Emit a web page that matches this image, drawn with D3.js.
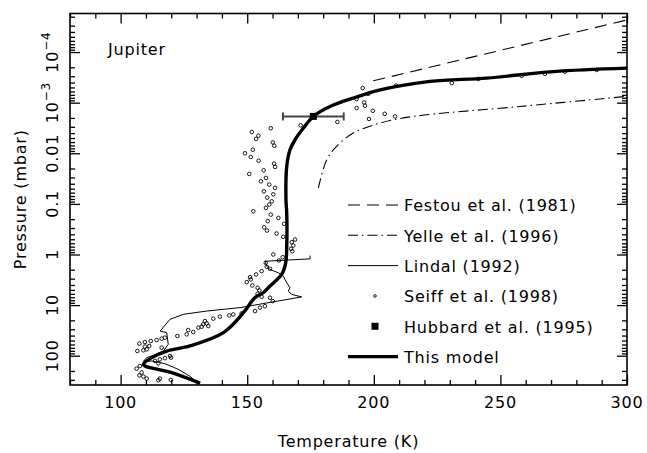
<!DOCTYPE html>
<html>
<head>
<meta charset="utf-8">
<script src="https://cdn.jsdelivr.net/npm/d3@7"></script>
<style>
  body { margin: 0; background: #fff; }
  svg text { font-family: "DejaVu Sans", sans-serif; fill: #000; letter-spacing: 0.8px; }
</style>
</head>
<body>
<svg id="chart" width="647" height="453"></svg>
<script>
// Jupiter upper-atmosphere temperature profiles: [temperature K, pressure mbar]

// Thick curve: this model (from deep atmosphere upward)
const modelProfile = [
  [131.4, 350], [119.5, 212], [109.6, 160], [109.0, 148], [112.3, 109],
  [118.2, 81], [127.4, 64], [140.6, 35], [148.5, 14.1], [153.1, 7.1],
  [156.3, 5.7], [159.0, 4.2], [163.6, 2.48], [165.2, 1.46], [165.6, 0.686],
  [165.6, 0.151], [165.3, 0.0822], [165.6, 0.0182], [166.9, 8.5e-3],
  [168.9, 5.4e-3], [172.2, 3.17e-3], [176.1, 1.87e-3], [182.7, 1.19e-3],
  [191.9, 8.1e-4], [202.5, 5.6e-4], [222.2, 3.8e-4], [244.6, 3.27e-4],
  [270.9, 2.43e-4], [300, 2.08e-4]
];

// Festou et al. (1981)
const festouProfile = [[199.8, 3.7e-4], [300, 2.32e-5]];

// Yelle et al. (1996)
const yelleProfile = [
  [178.1, 0.0484], [181.4, 0.0134], [185.3, 7.3e-3], [191.9, 3.98e-3],
  [202.5, 2.53e-3], [215.6, 1.87e-3], [257.8, 1.19e-3], [300, 7.5e-4]
];

// Lindal (1992) radio occultation
const lindalProfile = [
  [174.8, 1.05], [174.8, 1.22], [157.0, 1.36], [157.7, 1.70], [159.0, 1.98],
  [162.3, 2.30], [164.3, 2.68], [164.9, 3.11], [165.6, 3.61], [166.9, 4.54],
  [166.2, 5.30], [167.6, 6.15], [171.5, 6.89], [159.7, 8.73], [147.2, 11.2],
  [134.0, 13.1], [124.8, 15.2], [119.5, 19.1], [115.6, 32.6], [118.2, 35],
  [118.8, 59.6], [116.9, 80.7], [114.2, 93.8], [110.3, 109], [109.0, 129],
  [112.4, 127], [117.5, 144], [122.7, 185], [127.4, 255], [130.6, 350]
];

// Seiff et al. (1998) Galileo probe points
const seiffPoints = [
  [195.6, 5.15e-4], [193.2, 8.5e-4], [197.8, 6.7e-4], [193.2, 1.28e-3], [196.2, 9.9e-4],
  [196.5, 1.15e-3], [199.6, 1.45e-3], [198.1, 2.1e-3], [204.3, 1.66e-3], [208.4, 1.87e-3],
  [208.8, 4.6e-4], [185.6, 2.4e-3], [171.1, 2.8e-3], [159.3, 3.2e-3], [151.8, 3.8e-3],
  [154.4, 4.5e-3], [153.5, 5.2e-3], [160.1, 6.1e-3], [160.7, 7.1e-3], [152.2, 8.5e-3],
  [149.1, 0.010], [151.4, 0.0118], [154.5, 0.014], [160.6, 0.016], [161.0, 0.0186],
  [156.5, 0.0217], [150.8, 0.0256], [157.4, 0.0307], [155.4, 0.0358], [158.7, 0.0416],
  [161.0, 0.0483], [156.6, 0.0564], [160.3, 0.0647], [157.9, 0.0751],
  [159.7, 0.089], [158.7, 0.103], [157.4, 0.12], [152.4, 0.14], [159.3, 0.163],
  [162.3, 0.189], [158.1, 0.22], [164.6, 0.248], [156.7, 0.29], [157.8, 0.336],
  [161.6, 0.385], [164.2, 0.448], [168.9, 0.506], [167.6, 0.571], [168.2, 0.664],
  [167.3, 0.772], [167.8, 0.861], [160.3, 1.0], [164.0, 1.13], [162.5, 1.31],
  [157.3, 1.46], [157.7, 1.75], [159.0, 1.91], [155.7, 2.13], [153.5, 2.48],
  [151.1, 2.8], [151.4, 3.11], [149.8, 3.52], [152.0, 4.09], [154.1, 4.54],
  [154.8, 5.13], [154.1, 5.96], [155.7, 6.83], [159.0, 7.14],
  [160.1, 8.34], [157.0, 10.5], [155.0, 11.2], [153.1, 13.1], [147.8, 14.6],
  [144.5, 15.3], [142.9, 16.0], [139.2, 16.9], [136.6, 18.5], [133.3, 20.7],
  [132.6, 24], [134.0, 23], [132.0, 26.7], [130.7, 27.9], [134.6, 25.9],
  [128.7, 34], [126.7, 31.1], [126.1, 37.8], [122.4, 40.8], [116.2, 46],
  [114.2, 49], [111.9, 51.3], [109.6, 53.7], [107.4, 57.7], [109.6, 66.1],
  [111.3, 64.4], [106.6, 80.7], [109.0, 78.2], [110.3, 74.8], [116.2, 69.2],
  [117.5, 44], [115.5, 118], [117.5, 112], [119.5, 101], [119.9, 109],
  [113.6, 127], [114.9, 141], [106.3, 180], [107.6, 160], [108.3, 215],
  [107.4, 244], [109.0, 258], [110.3, 283], [114.9, 305], [115.5, 283], [119.8, 301],
  [230.8, 4.1e-4], [241.3, 3.4e-4], [258.4, 2.95e-4], [267.6, 2.7e-4],
  [275.5, 2.43e-4], [288.0, 2.25e-4]
];

// Hubbard et al. (1995) occultation point: [T, P, T error]
const hubbardPoint = [176.1, 1.87e-3, 12];

// Axis ticks
const xMajorTicks = [100, 150, 200, 250, 300];
const yMajorTicks = [100, 10, 1, 0.1, 0.01, 1e-3, 1e-4];
const yTickLabels = ["100", "10", "1", "0.1", "0.01", ["10", "\u22123"], ["10", "\u22124"]];

const legendLabels = [
  "Festou et al. (1981)", "Yelle et al. (1996)", "Lindal (1992)",
  "Seiff et al. (1998)", "Hubbard et al. (1995)", "This model"
];

// ---------------------------------------------------------------
const svg = d3.select("#chart");
const plot = { left: 70, right: 627, top: 13.5, bottom: 385 };

const x = d3.scaleLinear().domain([80, 300]).range([plot.left, plot.right]);
const y = d3.scaleLog().domain([1.73e-5, 379]).range([plot.top, plot.bottom]);

svg.append("clipPath").attr("id", "plotClip")
  .append("rect")
  .attr("x", plot.left).attr("y", plot.top)
  .attr("width", plot.right - plot.left).attr("height", plot.bottom - plot.top);

// minor tick values
const xMinorTicks = d3.range(80, 301, 10).filter(v => v % 50 !== 0);
const yMinorTicks = [];
for (let e = -5; e <= 2; e++) {
  for (let k = 2; k <= 9; k++) {
    const v = k * Math.pow(10, e);
    if (v >= y.domain()[0] && v <= y.domain()[1]) yMinorTicks.push(v);
  }
}

const majorLen = 10, minorLen = 5;
function drawAxis(gen, transform, values, len) {
  const g = svg.append("g").attr("transform", transform)
    .call(gen.tickValues(values).tickSize(-len).tickSizeOuter(0).tickFormat(""));
  g.select(".domain").remove();
  g.selectAll(".tick line").attr("stroke", "#000").attr("stroke-width", 1.3);
  return g;
}
drawAxis(d3.axisBottom(x), `translate(0,${plot.bottom})`, xMajorTicks, majorLen);
drawAxis(d3.axisBottom(x), `translate(0,${plot.bottom})`, xMinorTicks, minorLen);
drawAxis(d3.axisTop(x), `translate(0,${plot.top})`, xMajorTicks, majorLen);
drawAxis(d3.axisTop(x), `translate(0,${plot.top})`, xMinorTicks, minorLen);
drawAxis(d3.axisLeft(y), `translate(${plot.left},0)`, yMajorTicks, majorLen);
drawAxis(d3.axisLeft(y), `translate(${plot.left},0)`, yMinorTicks, minorLen);
drawAxis(d3.axisRight(y), `translate(${plot.right},0)`, yMajorTicks, majorLen);
drawAxis(d3.axisRight(y), `translate(${plot.right},0)`, yMinorTicks, minorLen);

// frame
svg.append("rect")
  .attr("x", plot.left).attr("y", plot.top)
  .attr("width", plot.right - plot.left).attr("height", plot.bottom - plot.top)
  .attr("fill", "none").attr("stroke", "#000").attr("stroke-width", 1.6);

// x tick labels
svg.append("g").selectAll("text").data(xMajorTicks).join("text")
  .attr("x", d => x(d)).attr("y", 408)
  .attr("text-anchor", "middle").attr("font-size", 16)
  .text(d => d);

// y tick labels (rotated, reading upward)
yMajorTicks.forEach((v, i) => {
  const lab = yTickLabels[i];
  const t = svg.append("text")
    .attr("transform", `translate(58,${y(v)}) rotate(-90)`)
    .attr("text-anchor", "middle").attr("font-size", 16);
  if (Array.isArray(lab)) {
    t.append("tspan").text(lab[0]);
    t.append("tspan").attr("dy", -8).attr("font-size", 12).text(lab[1]);
  } else {
    t.text(lab);
  }
});

// axis titles
svg.append("text")
  .attr("x", (plot.left + plot.right) / 2).attr("y", 447)
  .attr("text-anchor", "middle").attr("font-size", 16)
  .text("Temperature (K)");
svg.append("text")
  .attr("transform", `translate(26,${(plot.top + plot.bottom) / 2}) rotate(-90)`)
  .attr("text-anchor", "middle").attr("font-size", 16)
  .text("Pressure (mbar)");

svg.append("text").attr("x", 108).attr("y", 55).attr("font-size", 16).text("Jupiter");

// ---------------------------------------------------------------
const data = svg.append("g").attr("clip-path", "url(#plotClip)");
const lineLin = d3.line().x(d => x(d[0])).y(d => y(d[1]));
const lineSmooth = d3.line().x(d => x(d[0])).y(d => y(d[1])).curve(d3.curveCatmullRom.alpha(0.5));

const styles = {
  festou: { w: 1.1, dash: "12,7" },
  yelle: { w: 1.1, dash: "10,4,1.5,4" },
  lindal: { w: 1.0, dash: null },
  model: { w: 3.4, dash: null }
};

data.append("path").datum(festouProfile).attr("d", lineLin)
  .attr("fill", "none").attr("stroke", "#000")
  .attr("stroke-width", styles.festou.w).attr("stroke-dasharray", styles.festou.dash);

data.append("path").datum(yelleProfile).attr("d", lineSmooth)
  .attr("fill", "none").attr("stroke", "#000")
  .attr("stroke-width", styles.yelle.w).attr("stroke-dasharray", styles.yelle.dash);

data.append("path").datum(lindalProfile).attr("d", lineLin)
  .attr("fill", "none").attr("stroke", "#000")
  .attr("stroke-width", styles.lindal.w).attr("stroke-linejoin", "round");

data.append("g").selectAll("circle").data(seiffPoints).join("circle")
  .attr("cx", d => x(d[0])).attr("cy", d => y(d[1])).attr("r", 1.8)
  .attr("fill", "none").attr("stroke", "#000").attr("stroke-width", 0.9);

data.append("path").datum(modelProfile).attr("d", lineSmooth)
  .attr("fill", "none").attr("stroke", "#000")
  .attr("stroke-width", styles.model.w).attr("stroke-linejoin", "round");

// Hubbard point with temperature error bar
const [hT, hP, hErr] = hubbardPoint;
const hy = y(hP);
const eb = data.append("g").attr("stroke", "#444").attr("stroke-width", 2);
eb.append("line").attr("x1", x(hT - hErr)).attr("x2", x(hT + hErr)).attr("y1", hy).attr("y2", hy);
eb.append("line").attr("x1", x(hT - hErr)).attr("x2", x(hT - hErr)).attr("y1", hy - 4).attr("y2", hy + 4);
eb.append("line").attr("x1", x(hT + hErr)).attr("x2", x(hT + hErr)).attr("y1", hy - 4).attr("y2", hy + 4);
data.append("rect").attr("x", x(hT) - 3.5).attr("y", hy - 3.5)
  .attr("width", 7).attr("height", 7).attr("fill", "#000");

// ---------------------------------------------------------------
// legend
const legY = d3.scaleLinear().domain([0, 5]).range([205, 356.6]);
const legX0 = 348, legX1 = 398, legMid = 375, legText = 404;
const leg = svg.append("g");
legendLabels.forEach((lab, i) => {
  const yy = legY(i);
  if (i === 0 || i === 1 || i === 2 || i === 5) {
    const st = [styles.festou, styles.yelle, styles.lindal, null, null, styles.model][i];
    leg.append("line").attr("x1", legX0).attr("x2", legX1).attr("y1", yy).attr("y2", yy)
      .attr("stroke", "#000").attr("stroke-width", st.w)
      .attr("stroke-dasharray", st.dash);
  } else if (i === 3) {
    leg.append("circle").attr("cx", legMid).attr("cy", yy).attr("r", 1.3)
      .attr("fill", "none").attr("stroke", "#000").attr("stroke-width", 0.9);
  } else {
    leg.append("rect").attr("x", legMid - 3.5).attr("y", yy - 3.5)
      .attr("width", 7).attr("height", 7).attr("fill", "#000");
  }
  leg.append("text").attr("x", legText).attr("y", yy + 6.3)
    .attr("font-size", 16).text(lab);
});
</script>
</body>
</html>
